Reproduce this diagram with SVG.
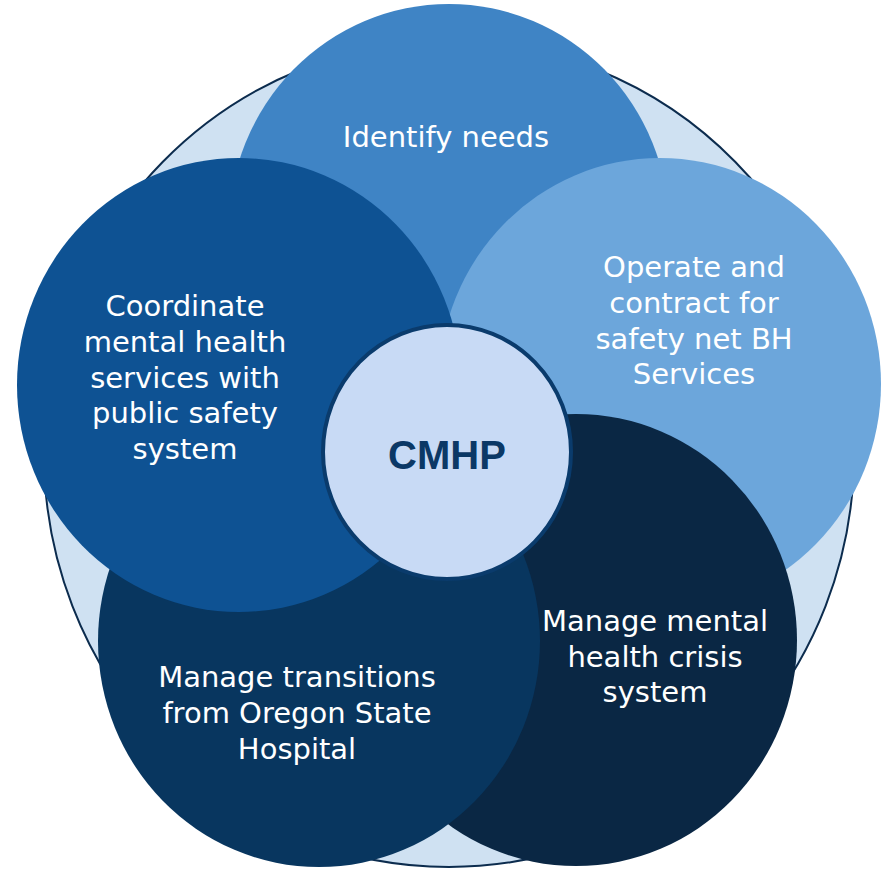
<svg xmlns="http://www.w3.org/2000/svg" width="881" height="869" viewBox="0 0 881 869">
<style>
.lbl{font-family:"DejaVu Sans","Noto Sans",sans-serif;font-size:29px;fill:#ffffff;text-anchor:middle}
.core{font-family:"Liberation Sans",Arial,sans-serif;font-size:40px;font-weight:bold;fill:#0b3866;text-anchor:middle}
</style>
<rect width="881" height="869" fill="#ffffff"/>
<g id="background">
<ellipse cx="449" cy="454" rx="405" ry="413" fill="#cfe1f2" stroke="#0c2c4e" stroke-width="2"/>
</g>
<g id="connectors"></g>
<g id="node-identify">
<ellipse cx="449" cy="228" rx="220" ry="224" fill="#3f84c5"/>
<text class="lbl" x="446" y="147">Identify needs</text>
</g>
<g id="node-operate">
<ellipse cx="660" cy="384" rx="221" ry="226" fill="#6ca6db"/>
<text class="lbl" x="694" y="277">Operate and</text>
<text class="lbl" x="694" y="313">contract for</text>
<text class="lbl" x="694" y="349">safety net BH</text>
<text class="lbl" x="694" y="384">Services</text>
</g>
<g id="node-crisis">
<ellipse cx="576" cy="640" rx="221" ry="226" fill="#0a2744"/>
<text class="lbl" x="655" y="631">Manage mental</text>
<text class="lbl" x="655" y="667">health crisis</text>
<text class="lbl" x="655" y="702">system</text>
</g>
<g id="node-transitions">
<ellipse cx="319" cy="641" rx="221" ry="226" fill="#08365f"/>
<text class="lbl" x="297" y="687">Manage transitions</text>
<text class="lbl" x="297" y="723">from Oregon State</text>
<text class="lbl" x="297" y="759">Hospital</text>
</g>
<g id="node-coordinate">
<ellipse cx="239" cy="385" rx="222" ry="227" fill="#0e5293"/>
<text class="lbl" x="185" y="316">Coordinate</text>
<text class="lbl" x="185" y="352">mental health</text>
<text class="lbl" x="185" y="388">services with</text>
<text class="lbl" x="185" y="423">public safety</text>
<text class="lbl" x="185" y="459">system</text>
</g>
<g id="node-cmhp">
<ellipse cx="447" cy="452" rx="124" ry="127" fill="#c8daf5" stroke="#0a3b6c" stroke-width="4"/>
<text class="core" x="447" y="469">CMHP</text>
</g>
</svg>
